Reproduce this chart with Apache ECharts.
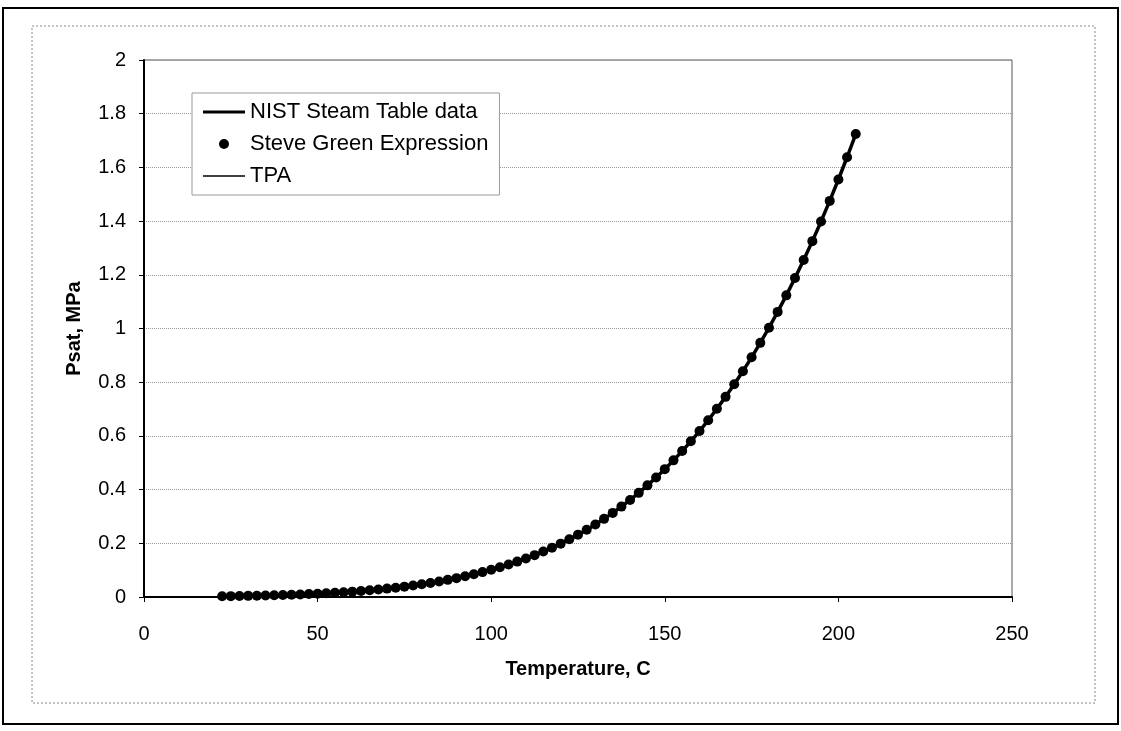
<!DOCTYPE html>
<html>
<head>
<meta charset="utf-8">
<script src="https://cdn.jsdelivr.net/npm/echarts@6/dist/echarts.min.js"></script>
<style>
html,body{margin:0;padding:0;background:#fff;}
#chart{width:1121px;height:731px;}
</style>
</head>
<body>
<div id="chart"></div>
<script>
// Temperature, C
const temps = [22.5,25,27.5,30,32.5,35,37.5,40,42.5,45,47.5,50,52.5,55,57.5,60,62.5,65,67.5,70,
  72.5,75,77.5,80,82.5,85,87.5,90,92.5,95,97.5,100,102.5,105,107.5,110,112.5,115,117.5,120,
  122.5,125,127.5,130,132.5,135,137.5,140,142.5,145,147.5,150,152.5,155,157.5,160,162.5,165,
  167.5,170,172.5,175,177.5,180,182.5,185,187.5,190,192.5,195,197.5,200,202.5,205];
// Psat, MPa
const psat = [0.00273,0.00317,0.00367,0.00425,0.00490,0.00563,0.00646,0.00738,0.00843,0.00960,
  0.01090,0.01235,0.01397,0.01576,0.01775,0.01995,0.02236,0.02504,0.02796,0.03120,
  0.03472,0.03859,0.04280,0.04741,0.05244,0.05787,0.06385,0.07018,0.07710,0.08461,
  0.09270,0.10142,0.11080,0.12090,0.13180,0.14338,0.15590,0.16918,0.18340,0.19867,
  0.21500,0.23223,0.25070,0.27028,0.29110,0.31322,0.33670,0.36153,0.38790,0.41581,
  0.44530,0.47616,0.50890,0.54349,0.57980,0.61814,0.65830,0.70093,0.74540,0.79218,
  0.84110,0.89260,0.94650,1.00280,1.06180,1.12350,1.18790,1.25520,1.32540,1.39880,
  1.47520,1.55490,1.63780,1.72430];
const seriesNames = ['NIST Steam Table data','Steve Green Expression','TPA'];
const xTitle = 'Temperature, C';
const yTitle = 'Psat, MPa';

const pts = temps.map((t,i)=>[t, psat[i]]);
const FONT = 'Liberation Sans, Arial, sans-serif';

// legend icons (42x14 box kept by hair-thin edge slivers)
const box = 'M0,0 L0.01,0 L0.01,14 L0,14 Z M41.99,0 L42,0 L42,14 L41.99,14 Z ';
const iconThick = 'path://' + box + 'M0,5.5 L42,5.5 L42,8.5 L0,8.5 Z';
const iconThin = 'path://' + box + 'M0,6.3 L42,6.3 L42,7.7 L0,7.7 Z';
const iconDot = 'path://' + box + 'M16,7 A5,5 0 1,1 26,7 A5,5 0 1,1 16,7 Z';

const chart = echarts.init(document.getElementById('chart'));
chart.setOption({
  animation:false,
  backgroundColor:'#fff',
  graphic:[
    {type:'rect', z:-10, shape:{x:3,y:8,width:1115,height:716}, style:{fill:'none',stroke:'#000',lineWidth:2}},
    {type:'rect', z:-10, shape:{x:32,y:26,width:1063,height:677}, style:{fill:'none',stroke:'#888',lineWidth:1,lineDash:[2,2]}}
  ],
  grid:{left:144,right:109,top:60,bottom:134,show:true,borderColor:'#555',borderWidth:1,backgroundColor:'transparent'},
  legend:{
    left:192, top:93, orient:'vertical',
    padding:[8,11,8,11], itemGap:10, itemWidth:42, itemHeight:14,
    backgroundColor:'#fff', borderColor:'#999', borderWidth:1,
    itemStyle:{color:'#000', borderWidth:0, opacity:1},
    textStyle:{fontFamily:FONT,fontSize:22,color:'#000',lineHeight:22},
    data:[
      {name:seriesNames[0], icon:iconThick, itemStyle:{color:'#000', opacity:1}},
      {name:seriesNames[1], icon:iconDot, itemStyle:{color:'#000', opacity:1}},
      {name:seriesNames[2], icon:iconThin, itemStyle:{color:'#000', opacity:1}}
    ]
  },
  xAxis:{
    type:'value', min:0, max:250, interval:50,
    name:xTitle, nameLocation:'middle', nameGap:62,
    nameTextStyle:{fontFamily:FONT,fontSize:20,fontWeight:'bold',color:'#000'},
    axisLine:{lineStyle:{color:'#000',width:2}},
    axisTick:{show:true,length:5,lineStyle:{color:'#000'}},
    axisLabel:{fontFamily:FONT,fontSize:20,color:'#000',margin:27},
    splitLine:{show:false}
  },
  yAxis:{
    type:'value', min:0, max:2, interval:0.2,
    name:yTitle, nameLocation:'middle', nameGap:60, nameRotate:90,
    nameTextStyle:{fontFamily:FONT,fontSize:20,fontWeight:'bold',color:'#000'},
    axisLine:{show:true,lineStyle:{color:'#000',width:2}},
    axisTick:{show:true,length:5,lineStyle:{color:'#000'}},
    axisLabel:{fontFamily:FONT,fontSize:20,color:'#000',margin:18},
    splitLine:{show:true,lineStyle:{color:'#999',type:'dotted',width:1}}
  },
  series:[
    {name:seriesNames[0], type:'line', data:pts, showSymbol:false, symbol:'none',
     lineStyle:{color:'#000',width:3.5}, itemStyle:{color:'#000'}, z:2},
    {name:seriesNames[1], type:'scatter', data:pts, symbol:'circle', symbolSize:10,
     itemStyle:{color:'#000', opacity:1}, z:3},
    {name:seriesNames[2], type:'line', data:pts, showSymbol:false, symbol:'none',
     lineStyle:{color:'#000',width:1.2}, itemStyle:{color:'#000'}, z:4}
  ]
});
</script>
</body>
</html>
